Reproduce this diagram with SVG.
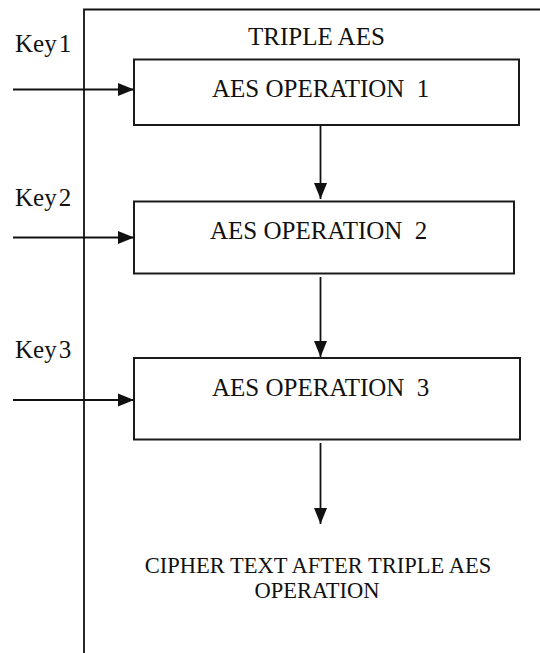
<svg xmlns="http://www.w3.org/2000/svg" width="540" height="653" viewBox="0 0 540 653">
  <style>
    .box { fill: #ffffff; stroke: #1a1a1a; stroke-width: 2; }
    .wire { fill: none; stroke: #111111; stroke-width: 1.8; }
    text { font-family: 'Liberation Serif', 'Times New Roman', Times, serif; fill: #111111; }
    .big { font-size: 25px; }
    .small { font-size: 22.5px; }
  </style>
  <defs>
    <marker id="head" markerUnits="userSpaceOnUse" markerWidth="16" markerHeight="14" refX="16" refY="7" orient="auto">
      <path d="M0,0.5 L16,7 L0,13.5 z" fill="#111111"/>
    </marker>
  </defs>
  <rect x="0" y="0" width="540" height="653" fill="#ffffff"/>

  <g font-family="Liberation Serif, serif">
  <!-- enclosing frame, open to the right and bottom -->
  <g id="frame">
    <path class="wire" d="M84,653 V9.5 H541" stroke-width="2"/>
    <text class="big" x="248" y="45">TRIPLE AES</text>
  </g>

  <g id="op1">
    <rect class="box" x="134" y="59.5" width="385" height="65.5"/>
    <text class="big" x="212" y="97">AES OPERATION <tspan dx="6">1</tspan></text>
  </g>
  <g id="op2">
    <rect class="box" x="134" y="201.5" width="380" height="72"/>
    <text class="big" x="210" y="239">AES OPERATION <tspan dx="6">2</tspan></text>
  </g>
  <g id="op3">
    <rect class="box" x="134" y="358" width="386" height="81.5"/>
    <text class="big" x="212" y="396">AES OPERATION <tspan dx="6">3</tspan></text>
  </g>

  <g id="key1"><text class="big" x="15" y="52">Key<tspan dx="2">1</tspan></text></g>
  <g id="key2"><text class="big" x="15" y="206">Key<tspan dx="2">2</tspan></text></g>
  <g id="key3"><text class="big" x="15" y="358">Key<tspan dx="2">3</tspan></text></g>

  <g id="output">
    <text class="small" text-anchor="middle" x="318" y="573">CIPHER TEXT AFTER TRIPLE AES</text>
    <text class="small" text-anchor="middle" x="317" y="598">OPERATION</text>
  </g>
  </g>

  <g id="connectors">
    <line class="wire" x1="13" y1="89.5" x2="134" y2="89.5" marker-end="url(#head)"/>
    <line class="wire" x1="13" y1="237.5" x2="134" y2="237.5" marker-end="url(#head)"/>
    <line class="wire" x1="13" y1="400" x2="134" y2="400" marker-end="url(#head)"/>
    <line class="wire" x1="320.5" y1="125" x2="320.5" y2="199" marker-end="url(#head)"/>
    <line class="wire" x1="320.5" y1="277" x2="320.5" y2="357" marker-end="url(#head)"/>
    <line class="wire" x1="320.5" y1="443" x2="320.5" y2="524" marker-end="url(#head)"/>
  </g>
</svg>
